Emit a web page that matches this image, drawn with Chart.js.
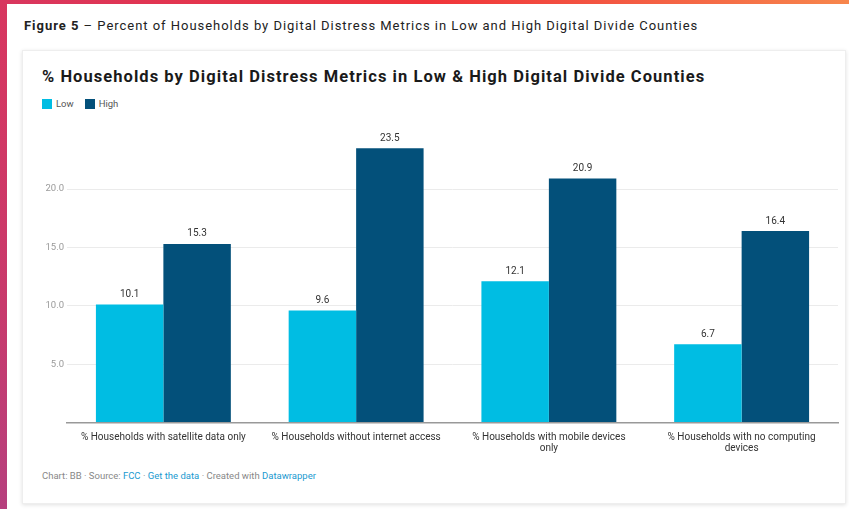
<!DOCTYPE html>
<html>
<head>
<meta charset="utf-8">
<script src="https://cdn.jsdelivr.net/npm/chart.js@4"></script>
<style>
  html, body { margin: 0; padding: 0; }
  body {
    width: 849px; height: 509px; position: relative; overflow: hidden;
    background: #fff; font-family: Roboto, "Noto Sans", sans-serif;
  }
  .topbar {
    position: absolute; left: 0; top: 0; width: 849px; height: 4px;
    background: linear-gradient(90deg, #d8365f 0%, #f0333a 50%, #f7864c 100%);
  }
  .leftbar {
    position: absolute; left: 0; top: 0; width: 7px; height: 509px;
    background: linear-gradient(180deg, #d8365f 0%, #c83a6c 60%, #b6407e 100%);
  }
  .caption {
    position: absolute; left: 24px; top: 18px; font-size: 13px; color: #222;
    white-space: nowrap; letter-spacing: 0.97px;
  }
  .caption b { font-weight: 700; }
  .card {
    position: absolute; left: 22px; top: 50px; width: 822px; height: 452px;
    border: 1px solid #eee; box-shadow: 0 1px 4px rgba(0,0,0,0.12);
    background: #fff;
  }
  .ctitle {
    position: absolute; left: 42px; top: 67px; font-size: 16.5px; font-weight: 700;
    color: #1a1a1a; white-space: nowrap; letter-spacing: 1.05px;
  }
  .legend {
    position: absolute; left: 42px; top: 98px; font-size: 9.5px; color: #555;
    display: flex; align-items: center;
  }
  .legend span.sw { display: inline-block; width: 10px; height: 10px; margin-right: 4px; }
  .legend span.lb { margin-right: 11px; }
  .footer {
    position: absolute; left: 42px; top: 470px; font-size: 9.5px; color: #888;
    white-space: nowrap;
  }
  .footer a { color: #1a9ad0; text-decoration: none; }
  #wrap { position: absolute; left: 22px; top: 122px; width: 823px; height: 338px; }
</style>
</head>
<body>
<div class="topbar"></div>
<div class="leftbar"></div>
<div class="caption"><b>Figure 5</b> – Percent of Households by Digital Distress Metrics in Low and High Digital Divide Counties</div>
<div class="card"></div>
<div class="ctitle">% Households by Digital Distress Metrics in Low &amp; High Digital Divide Counties</div>
<div class="legend">
  <span class="sw" style="background:#00bde3"></span><span class="lb">Low</span>
  <span class="sw" style="background:#03507a"></span><span class="lb">High</span>
</div>
<div id="wrap"><canvas id="chart"></canvas></div>
<div class="footer">Chart: BB · Source: <a>FCC</a> · <a>Get the data</a> · Created with <a>Datawrapper</a></div>

<script>
const categories = [
  ["% Households with satellite data only"],
  ["% Households without internet access"],
  ["% Households with mobile devices", "only"],
  ["% Households with no computing", "devices"]
];
const lowValues = [10.1, 9.6, 12.1, 6.7];
const highValues = [15.3, 23.5, 20.9, 16.4];
const yTicks = [5, 10, 15, 20];

const barLabels = {
  id: "barLabels",
  afterDatasetsDraw(chart) {
    const ctx = chart.ctx;
    ctx.save();
    ctx.font = "10px Roboto, sans-serif";
    ctx.fillStyle = "#333";
    ctx.textAlign = "center";
    ctx.textBaseline = "bottom";
    chart.data.datasets.forEach((ds, i) => {
      chart.getDatasetMeta(i).data.forEach((bar, j) => {
        ctx.fillText(ds.data[j].toFixed(1), bar.x, bar.y - 5);
      });
    });
    ctx.restore();
  }
};

const ctx = document.getElementById("chart").getContext("2d");
new Chart(ctx, {
  type: "bar",
  data: {
    labels: categories,
    datasets: [
      { label: "Low", data: lowValues, backgroundColor: "#00bde3", categoryPercentage: 0.7, barPercentage: 1 },
      { label: "High", data: highValues, backgroundColor: "#03507a", categoryPercentage: 0.7, barPercentage: 1 }
    ]
  },
  options: {
    responsive: true,
    maintainAspectRatio: false,
    animation: false,
    layout: { padding: { top: 0, right: 7, left: 0, bottom: 0 } },
    plugins: { legend: { display: false }, tooltip: { enabled: false } },
    scales: {
      x: {
        grid: { display: false },
        border: { display: true, color: "#999", width: 1.5 },
        ticks: { font: { size: 10, family: "Roboto", lineHeight: 1.1 }, color: "#333", maxRotation: 0, padding: 1 },
        afterFit: (s) => { s.height = 37.5; }
      },
      y: {
        min: 0,
        max: 25,
        afterBuildTicks: (s) => { s.ticks = [0, ...yTicks, 25].map((v) => ({ value: v })); },
        grid: {
          drawTicks: false,
          color: (c) => (yTicks.includes(c.tick.value) ? "#ebebeb" : "rgba(0,0,0,0)")
        },
        border: { display: false },
        ticks: {
          font: { size: 9.5, family: "Roboto" },
          color: "#9a9a9a",
          padding: 3,
          callback: (v) => (yTicks.includes(v) ? v.toFixed(1) : "")
        },
        afterFit: (s) => { s.width = 45; }
      }
    }
  },
  plugins: [barLabels]
});
</script>
</body>
</html>
